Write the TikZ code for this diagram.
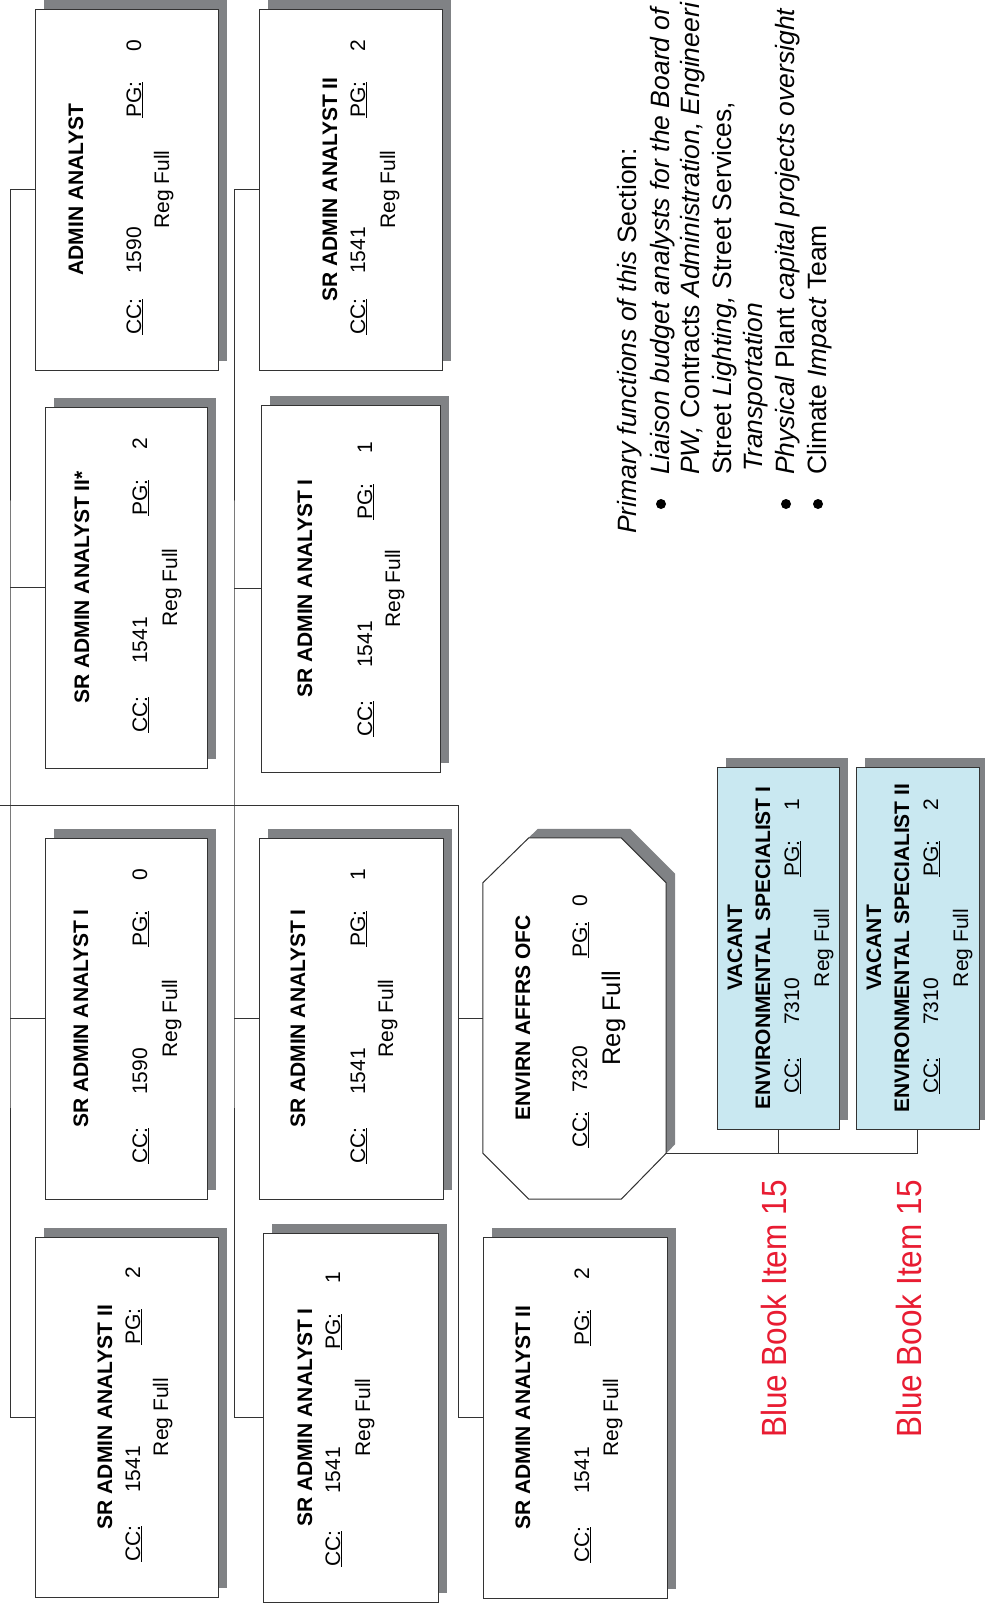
\documentclass[tikz,border=0pt]{standalone}
\usepackage{fontspec}
\setmainfont{Liberation Sans}
\newfontfamily\redfont{Liberation Sans}[FakeStretch=0.9]
\usepackage{xcolor}
\usetikzlibrary{positioning, fit, shadows, calc}
\definecolor{cShadow}{RGB}{128,130,133}
\definecolor{cLine}{RGB}{51,51,51}
\definecolor{cVacant}{RGB}{201,232,241}
\definecolor{cRedText}{RGB}{232,28,50}
\tikzset{
    posbox/.style ={draw=cLine, line width=1pt, inner sep=0pt, general shadow={fill=cShadow, shadow xshift=9pt, shadow yshift=9pt}},
    orgline/.style={draw=cLine, line width=0.8pt},
    ttl/.style    ={rotate=90, inner sep=0pt, anchor=base, font=\fontsize{21}{24}\selectfont\bfseries},
    regtxt/.style ={rotate=90, inner sep=0pt, anchor=base, font=\fontsize{21}{24}\selectfont},
    txt/.style    ={rotate=90, inner sep=0pt, anchor=base west, font=\fontsize{21}{24}\selectfont},
    note/.style   ={rotate=90, inner sep=0pt, anchor=base west, font=\fontsize{26.5}{30}\selectfont\itshape},
    bookref/.style={rotate=90, inner sep=0pt, anchor=base west, text=cRedText, font=\redfont\fontsize{35}{40}\selectfont},
    dot/.style    ={circle, fill=black, inner sep=0pt, minimum size=10pt},
}

\begin{document}
\begin{tikzpicture}[x=1pt, y=-1pt]
    \useasboundingbox (0,0) rectangle (985,1604);
    \clip (0,0) rectangle (985,1604);
    % position boxes
    \foreach \nm/\xl/\yt/\xr/\yb/\ttl/\tb/\cb/\rb/\cc/\no/\pg/\bg in {
        aa/35/9/218/370/ADMIN ANALYST/48/106/134/1590/96/0/white,
        sa2a/259/9/442/370/SR ADMIN ANALYST II/78/106/136/1541/96/2/white,
        sa2s/45/407/207/768/SR ADMIN ANALYST II*/44/102/132/1541/104/2/white,
        sa1a/261/405/440/772/SR ADMIN ANALYST I/51/111/139/1541/104/1/white,
        sa1b/45/838/207/1199/SR ADMIN ANALYST I/43/102/132/1590/104/0/white,
        sa1c/259/838/443/1199/SR ADMIN ANALYST I/46/106/134/1541/104/1/white,
        sa2b/35/1237/218/1597/SR ADMIN ANALYST II/77/105/133/1541/104/2/white,
        sa1d/263/1233/438/1602/SR ADMIN ANALYST I/49/77/107/1541/108/1/white,
        sa2c/483/1237/667/1598/SR ADMIN ANALYST II/47/106/135/1541/104/2/white,
        vac1/717/767/839/1129/ENVIRONMENTAL SPECIALIST I/53/82/112/7310/104/1/cVacant,
        vac2/856/767/979/1129/ENVIRONMENTAL SPECIALIST II/53/82/112/7310/104/2/cVacant} {
        \node[posbox, fill=\bg, fit={(\xl,\yt) (\xr,\yb)}] (\nm) {};
        \node[ttl] (\nm-title) at ({\xl+\tb}, {(\yt+\yb)/2}) {\ttl};
        \node[txt] (\nm-cclbl) at ({\xl+\cb}, {\yb-35}) {\underline{CC:}};
        \node[txt] (\nm-cc) at ({\xl+\cb}, {\yb-\no}) {\cc};
        \node[txt] (\nm-pglbl) at ({\xl+\cb}, {\yb-252}) {\underline{PG:}};
        \node[txt] (\nm-pg) at ({\xl+\cb}, {\yb-318}) {\pg};
        \node[regtxt] (\nm-reg) at ({\xl+\rb}, {(\yt+\yb)/2}) {Reg Full};
    }
    \node[ttl] (vac1-vacant) at (742,948) {VACANT};
    \node[ttl] (vac2-vacant) at (881,948) {VACANT};

    % office (octagon)
    \node[fit={(483,838) (666,1199)}, inner sep=0pt] (oct) {};
    \draw[posbox, fill=white] ([xshift=46pt]oct.north west) -- ([xshift=-45pt]oct.north east)
        -- ([yshift=-45pt]oct.north east) -- ([yshift=46pt]oct.south east)
        -- ([xshift=-45pt]oct.south east) -- ([xshift=46pt]oct.south west)
        -- ([yshift=46pt]oct.south west) -- ([yshift=-45pt]oct.north west) -- cycle;
    \coordinate (octfoot) at ([yshift=46pt]oct.south east);
    \node[ttl] (oct-title) at (530,1018) {ENVIRN AFFRS OFC};
    \node[txt] (oct-cclbl) at (587,1148) {\underline{CC:}};
    \node[txt] (oct-cc) at (587,1093) {7320};
    \node[txt] (oct-pglbl) at (587,958) {\underline{PG:}};
    \node[txt] (oct-pg) at (587,907) {0};
    \node[regtxt, font=\fontsize{25.5}{28}\selectfont] (oct-reg) at (620,1018) {Reg Full};

    % reporting lines
    \coordinate (feed) at (0,805);
    \coordinate (sp1) at (10,805);
    \coordinate (sp2) at (234,805);
    \coordinate (sp3) at (458,805);
    \draw[orgline] (feed) -- (sp3) |- (sa2c.west);
    \draw[orgline] (aa.west) -| (sp1) |- (sa2b.west);
    \draw[orgline] (sa2a.west) -| (sp2) |- (sa1d.west);
    \foreach \nm/\sp in {sa2s/sp1, sa1b/sp1, sa1a/sp2, sa1c/sp2, oct/sp3}
        \draw[orgline] (\nm.west) -- (\nm.west -| \sp);
    \draw[orgline] (octfoot) -| (vac2.south);
    \draw[orgline] (vac1.south) -- (vac1.south |- octfoot);

    % notes
    \node[bookref] (ref1) at (786,1438) {Blue Book Item 15};
    \node[bookref] (ref2) at (921,1438) {Blue Book Item 15};
    \node[note] (n1) at (636,534) {Primary functions of this \textup{Section:}};
    \node[note] (n2) at (669,475) {Liaison budget analysts for the Board of};
    \node[note] (n3) at (699,475) {PW, \textup{Contracts} Administration, Engineeri};
    \node[note] (n4) at (731,475) {\textup{Street} Lighting, \textup{Street Services,}};
    \node[note] (n5) at (762,472) {Transportation};
    \node[note] (n6) at (794,475) {Physical \textup{Plant} capital projects oversight};
    \node[note] (n7) at (826,475) {\textup{Climate} Impact \textup{Team}};
    \node[dot] (b1) at (661,504) {};
    \node[dot] (b2) at (786,504) {};
    \node[dot] (b3) at (818,504) {};
\end{tikzpicture}
\end{document}
